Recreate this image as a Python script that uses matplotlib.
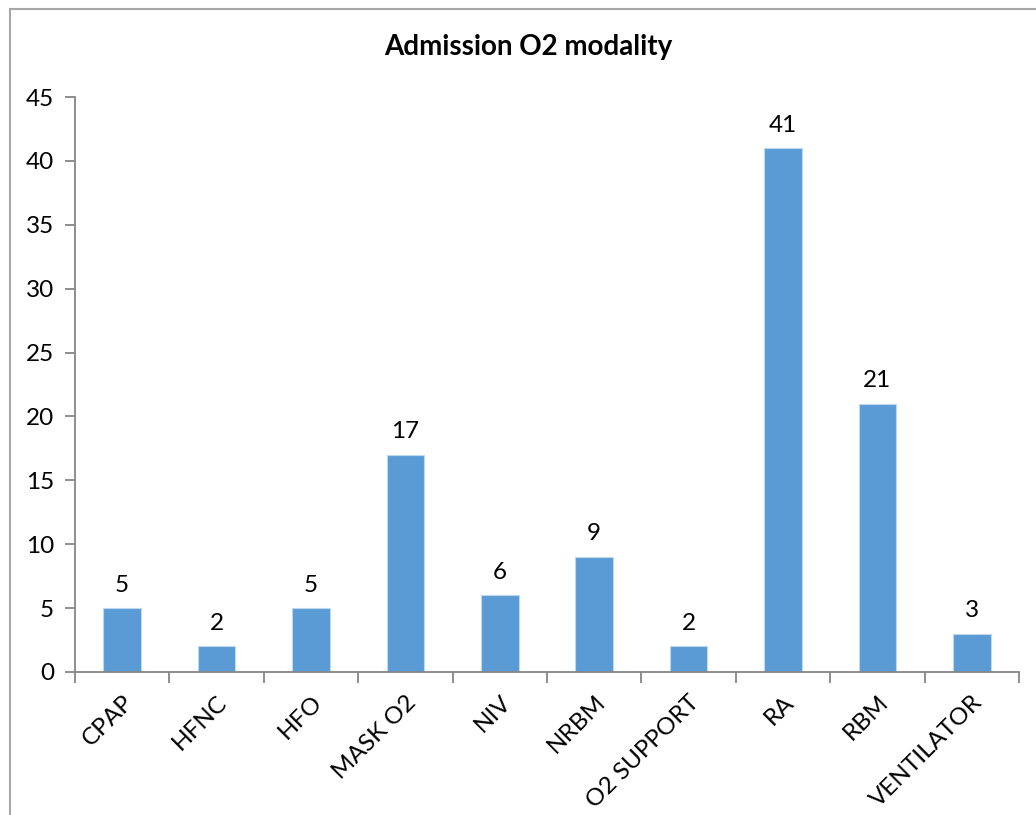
import matplotlib
matplotlib.use("Agg")
import matplotlib.pyplot as plt
from matplotlib.patches import Rectangle

categories = ["CPAP", "HFNC", "HFO", "MASK O2", "NIV", "NRBM", "O2 SUPPORT", "RA", "RBM", "VENTILATOR"]
counts = [5, 2, 5, 17, 6, 9, 2, 41, 21, 3]
y_ticks = [0, 5, 10, 15, 20, 25, 30, 35, 40, 45]
title = "Admission O2 modality"

plt.rcParams["font.family"] = ["Lato", "DejaVu Sans"]

W, H = 1036, 815
fig = plt.figure(figsize=(W / 100, H / 100), dpi=100)

# chart-area frame (runs off the right and bottom edges)
fig.patches.append(Rectangle((10 / W, -0.1), 1.2, 1 - 9 / H + 0.1,
                             transform=fig.transFigure, fill=False,
                             edgecolor="#A6A6A6", linewidth=1.5))

ax = fig.add_axes([75 / W, 1 - 672 / H, (1019 - 75) / W, (672 - 97) / H])
axis_col = "#868686"
fs = 17.5

x = list(range(len(categories)))
ax.bar(x, counts, width=0.40, color="#5B9BD5", edgecolor="#BDD7EE", linewidth=0.8, zorder=2)

for xi, v in zip(x, counts):
    ax.annotate(str(v), (xi, v), xytext=(0, 9), textcoords="offset points",
                ha="center", va="bottom", fontsize=fs, color="black")

ax.set_xlim(-0.5, len(categories) - 0.5)
ax.set_ylim(0, 45)
ax.set_yticks(y_ticks)
ax.set_yticklabels([str(t) for t in y_ticks], fontsize=fs)

ax.set_xticks(x)
ax.set_xticklabels(categories, rotation=45, ha="right", va="top",
                   rotation_mode="anchor", fontsize=fs)
ax.tick_params(axis="x", length=0, pad=14)
# category boundary ticks
ax.set_xticks([i - 0.5 for i in range(len(categories) + 1)], minor=True)
ax.tick_params(axis="x", which="minor", length=8, color=axis_col, width=1.3)
ax.tick_params(axis="y", length=7, color=axis_col, width=1.3, pad=8)

for s in ["top", "right"]:
    ax.spines[s].set_visible(False)
for s in ["left", "bottom"]:
    ax.spines[s].set_color(axis_col)
    ax.spines[s].set_linewidth(1.3)

fig.text(528 / W, 1 - 47 / H, title, ha="center", va="center",
         fontsize=20, fontweight="bold")

fig.savefig("out.png", dpi=100)
